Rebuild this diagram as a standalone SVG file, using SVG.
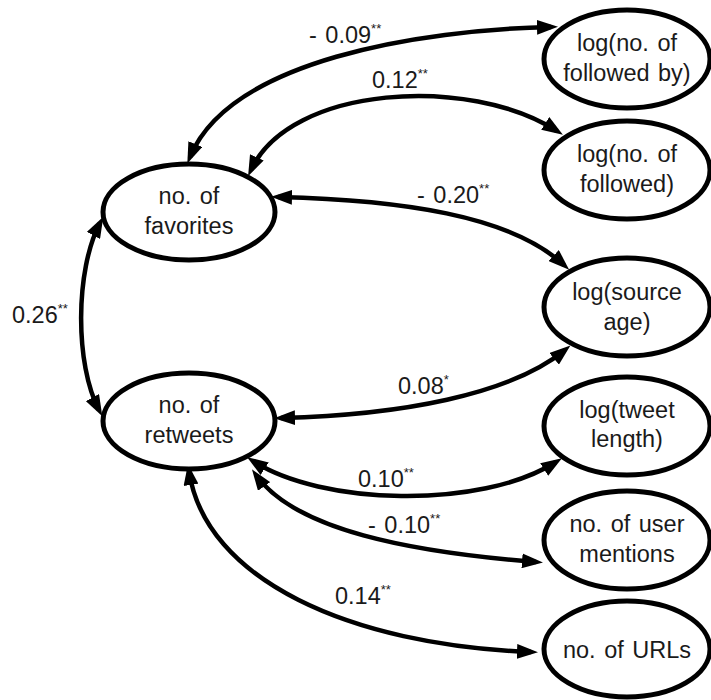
<svg xmlns="http://www.w3.org/2000/svg" width="711" height="700" viewBox="0 0 711 700">
<style>
.n ellipse{fill:#fff;stroke:#000;stroke-width:5}
text{font-family:"Liberation Sans",Arial,sans-serif;font-size:23.5px;fill:#1a1a1a;word-spacing:2px}
.n text{text-anchor:middle}
.c path{fill:none;stroke:#000;stroke-width:4.5;marker-start:url(#ah);marker-end:url(#ah)}
.s{font-size:13px}
</style>
<defs>
<marker id="ah" markerUnits="userSpaceOnUse" markerWidth="21" markerHeight="15" refX="14" refY="7.5" orient="auto-start-reverse" viewBox="0 0 21 15">
<path d="M0,0 L21,7.5 L0,15 z" fill="#000"/>
</marker>
</defs>
<rect width="711" height="700" fill="#fff"/>
<g class="c" id="connectors">
<path d="M190,157 C230,60 420,30 551,27"/>
<path d="M251,170 C290,85 470,75 557,131"/>
<path d="M278,197 C400,200 510,215 564,265"/>
<path d="M100,223 C75,270 75,365 99,410"/>
<path d="M281,418 C400,415 510,395 565,350"/>
<path d="M253,461 C320,505 480,510 556,462"/>
<path d="M256,475 C295,530 410,552 536,562"/>
<path d="M189,471 C205,580 350,645 531,652"/>
</g>
<g id="labels">
<text x="309" y="43">- 0.09<tspan class="s" dy="-10">**</tspan></text>
<text x="372" y="88">0.12<tspan class="s" dy="-10">**</tspan></text>
<text x="417" y="203">- 0.20<tspan class="s" dy="-10">**</tspan></text>
<text x="12" y="323">0.26<tspan class="s" dy="-10">**</tspan></text>
<text x="398" y="394">0.08<tspan class="s" dy="-10">*</tspan></text>
<text x="358" y="487">0.10<tspan class="s" dy="-10">**</tspan></text>
<text x="368" y="533">- 0.10<tspan class="s" dy="-10">**</tspan></text>
<text x="335" y="604">0.14<tspan class="s" dy="-10">**</tspan></text>
</g>
<g class="n" id="favorites"><ellipse cx="189" cy="212" rx="86" ry="48"/>
<text x="189" y="204">no. of</text><text x="189" y="234">favorites</text></g>
<g class="n" id="retweets"><ellipse cx="189" cy="421" rx="86" ry="48"/>
<text x="189" y="413">no. of</text><text x="189" y="443">retweets</text></g>
<g class="n" id="followedby"><ellipse cx="627" cy="59" rx="83" ry="49"/>
<text x="627" y="51">log(no. of</text><text x="627" y="81">followed by)</text></g>
<g class="n" id="followed"><ellipse cx="627" cy="170" rx="83" ry="49"/>
<text x="627" y="162">log(no. of</text><text x="627" y="192">followed)</text></g>
<g class="n" id="sourceage"><ellipse cx="627" cy="307" rx="83" ry="49"/>
<text x="627" y="300">log(source</text><text x="627" y="330">age)</text></g>
<g class="n" id="tweetlength"><ellipse cx="627" cy="426" rx="83" ry="49"/>
<text x="627" y="418">log(tweet</text><text x="627" y="447">length)</text></g>
<g class="n" id="mentions"><ellipse cx="627" cy="540" rx="83" ry="49"/>
<text x="627" y="532">no. of user</text><text x="627" y="562">mentions</text></g>
<g class="n" id="urls"><ellipse cx="627" cy="649" rx="83" ry="48"/>
<text x="627" y="658">no. of URLs</text></g>
</svg>
